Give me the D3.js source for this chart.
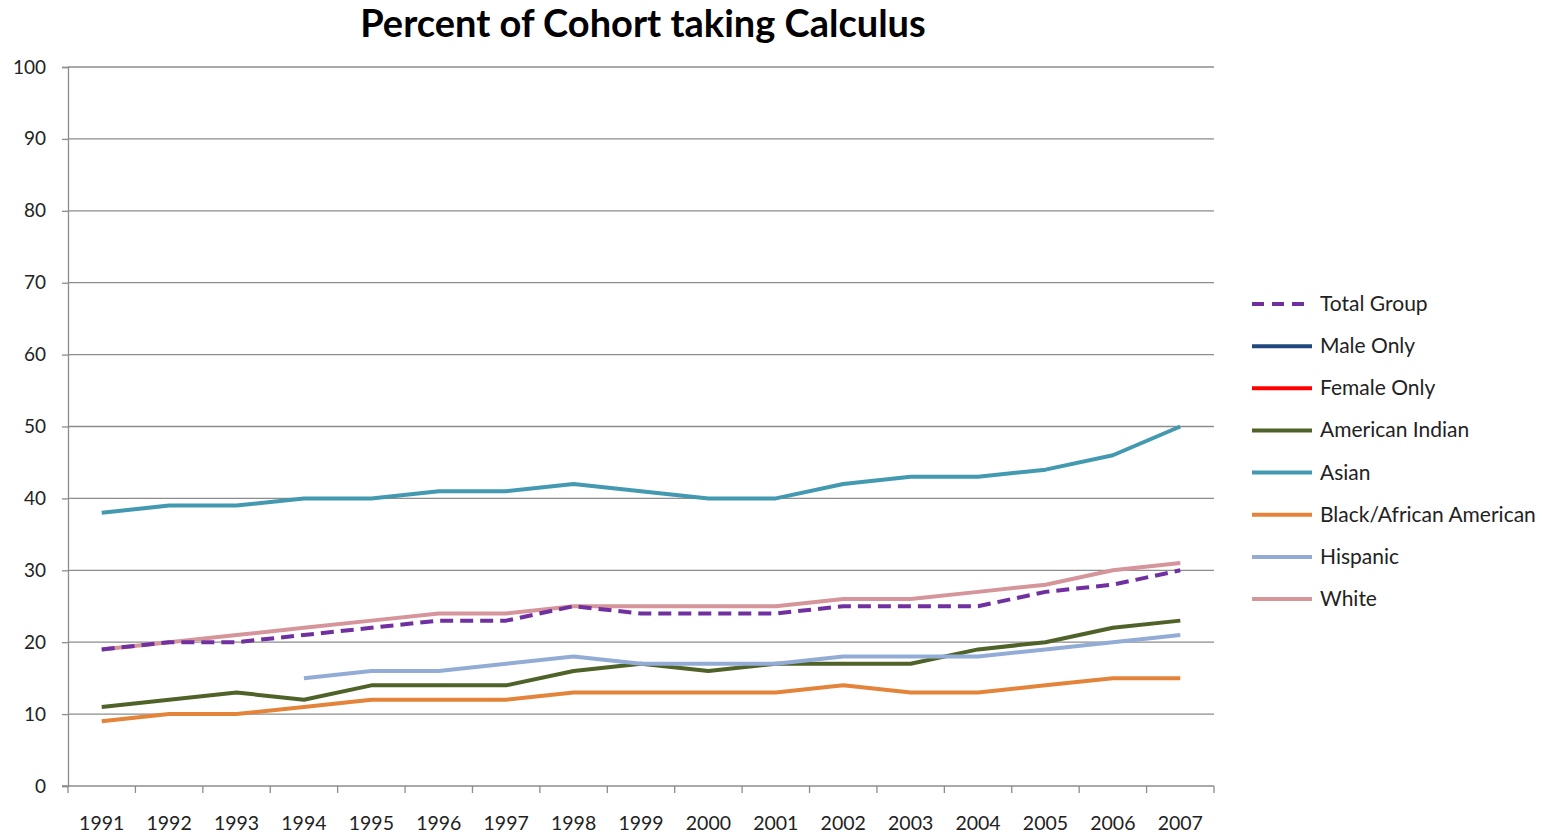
<!DOCTYPE html>
<html>
<head>
<meta charset="utf-8">
<script src="https://cdn.jsdelivr.net/npm/d3@7"></script>
<style>
  body { margin: 0; background: #fff; }
  text { font-family: Lato, 'Open Sans', sans-serif; }
</style>
</head>
<body>
<div id="chart"></div>
<script>
const years = ['1991', '1992', '1993', '1994', '1995', '1996', '1997', '1998', '1999',
  '2000', '2001', '2002', '2003', '2004', '2005', '2006', '2007'];
const yTicks = [0, 10, 20, 30, 40, 50, 60, 70, 80, 90, 100];

const totalGroup = [19, 20, 20, 21, 22, 23, 23, 25, 24, 24, 24, 25, 25, 25, 27, 28, 30];
const maleOnly = [];
const femaleOnly = [];
const americanIndian = [11, 12, 13, 12, 14, 14, 14, 16, 17, 16, 17, 17, 17, 19, 20, 22, 23];
const asian = [38, 39, 39, 40, 40, 41, 41, 42, 41, 40, 40, 42, 43, 43, 44, 46, 50];
const black = [9, 10, 10, 11, 12, 12, 12, 13, 13, 13, 13, 14, 13, 13, 14, 15, 15];
const hispanic = [null, null, null, 15, 16, 16, 17, 18, 17, 17, 17, 18, 18, 18, 19, 20, 21];
const white = [19, 20, 21, 22, 23, 24, 24, 25, 25, 25, 25, 26, 26, 27, 28, 30, 31];

const series = [
  { name: 'Total Group', values: totalGroup, colour: '#7030a0', dash: '13,7' },
  { name: 'Male Only', values: maleOnly, colour: '#1f497d' },
  { name: 'Female Only', values: femaleOnly, colour: '#ff0000' },
  { name: 'American Indian', values: americanIndian, colour: '#4f6228' },
  { name: 'Asian', values: asian, colour: '#4299b0' },
  { name: 'Black/African American', values: black, colour: '#e3843a' },
  { name: 'Hispanic', values: hispanic, colour: '#93acd6' },
  { name: 'White', values: white, colour: '#d6959a' },
];

const width = 1544;
const height = 834;
const plotLeft = 68;
const plotRight = 1214;
const plotTop = 67;
const plotBottom = 786;

const svg = d3
  .select('#chart')
  .append('svg')
  .attr('width', width)
  .attr('height', height);

const x = d3.scaleBand().domain(years).range([plotLeft, plotRight]);
const y = d3.scaleLinear().domain([0, 100]).range([plotBottom, plotTop]);

// gridlines
svg
  .append('g')
  .selectAll('line')
  .data(yTicks.slice(1))
  .enter()
  .append('line')
  .attr('x1', plotLeft)
  .attr('x2', plotRight)
  .attr('y1', d => y(d))
  .attr('y2', d => y(d))
  .attr('stroke', '#8c8c8c')
  .attr('stroke-width', 1.3);

// y axis
const yAxis = svg
  .append('g')
  .attr('transform', `translate(${plotLeft},0)`)
  .call(d3.axisLeft(y).tickValues(yTicks).tickSize(6).tickPadding(16));
yAxis.select('.domain').attr('stroke', '#8c8c8c').attr('stroke-width', 1.3);
yAxis.selectAll('.tick line').attr('stroke', '#8c8c8c').attr('stroke-width', 1.3);
yAxis
  .selectAll('.tick text')
  .style('font-size', '19px')
  .style('font-family', 'Lato, "Open Sans", sans-serif')
  .attr('fill', '#222');

// x axis: ticks sit between categories
const xAxis = svg.append('g').attr('transform', `translate(0,${plotBottom})`);
xAxis
  .append('line')
  .attr('x1', plotLeft - 6)
  .attr('x2', plotRight)
  .attr('stroke', '#8c8c8c')
  .attr('stroke-width', 1.3);
xAxis
  .selectAll('line.tick')
  .data(years.concat(['end']))
  .enter()
  .append('line')
  .attr('class', 'tick')
  .attr('x1', (d, i) => plotLeft + i * x.step())
  .attr('x2', (d, i) => plotLeft + i * x.step())
  .attr('y1', 0)
  .attr('y2', 7)
  .attr('stroke', '#8c8c8c')
  .attr('stroke-width', 1.3);
xAxis
  .selectAll('text')
  .data(years)
  .enter()
  .append('text')
  .attr('x', d => x(d) + x.bandwidth() / 2)
  .attr('y', 44)
  .attr('text-anchor', 'middle')
  .style('font-size', '19.5px')
  .attr('fill', '#222')
  .text(d => d);

// lines
const line = d3
  .line()
  .defined(d => d.v !== null)
  .x(d => x(d.year) + x.bandwidth() / 2)
  .y(d => y(d.v));

const drawOrder = [1, 2, 3, 4, 5, 6, 7, 0];
svg
  .append('g')
  .selectAll('path')
  .data(drawOrder.map(i => series[i]).filter(s => s.values.length))
  .enter()
  .append('path')
  .attr('d', s => line(s.values.map((v, i) => ({ year: years[i], v: v }))))
  .attr('fill', 'none')
  .attr('stroke', s => s.colour)
  .attr('stroke-width', 4)
  .attr('stroke-linejoin', 'round')
  .attr('stroke-dasharray', s => s.dash || null);

// legend
const legend = svg
  .append('g')
  .selectAll('g')
  .data(series)
  .enter()
  .append('g')
  .attr('transform', (d, i) => `translate(1252,${304 + i * 42.15})`);

legend
  .append('line')
  .attr('x1', 0)
  .attr('x2', 60)
  .attr('stroke', d => d.colour)
  .attr('stroke-width', 4)
  .attr('stroke-dasharray', d => (d.dash ? '12,8' : null));

legend
  .append('text')
  .attr('x', 68)
  .attr('y', 7)
  .style('font-size', '21px')
  .attr('fill', '#222')
  .text(d => d.name);

// title
svg
  .append('text')
  .attr('x', 643)
  .attr('y', 37)
  .attr('text-anchor', 'middle')
  .style('font-size', '38px')
  .style('font-weight', 'bold')
  .attr('fill', '#000')
  .text('Percent of Cohort taking Calculus');
</script>
</body>
</html>
